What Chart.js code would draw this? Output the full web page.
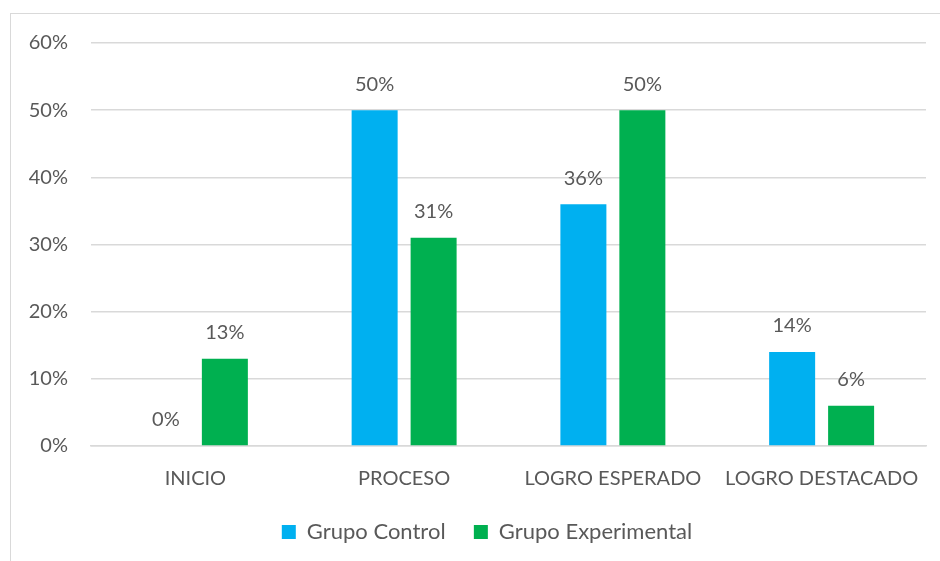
<!DOCTYPE html>
<html>
<head>
<meta charset="utf-8">
<script src="https://cdn.jsdelivr.net/npm/chart.js@4/dist/chart.umd.min.js"></script>
<style>
    html, body { margin: 0; padding: 0; background: #fff; }
    #wrap { position: relative; width: 940px; height: 561px; }
    #frame {
        position: absolute; left: 10px; top: 13px; right: -2px; bottom: -2px;
        border: 1px solid #d9d9d9;
    }
    #chart { position: absolute; left: 0; top: 0; }
</style>
</head>
<body>
<div id="wrap">
    <div id="frame"></div>
    <canvas id="chart" width="940" height="561"></canvas>
</div>
<script>
const categories = ["INICIO", "PROCESO", "LOGRO ESPERADO", "LOGRO DESTACADO"];
const grupoControl = [0, 50, 36, 14];
const grupoExperimental = [13, 31, 50, 6];

const textColor = "#595959";
const fontFamily = "Lato, 'Open Sans', sans-serif";
const fontSize = 20;

// draws the percentage above each bar
const valueLabels = {
    id: "valueLabels",
    afterDatasetsDraw(chart) {
        const ctx = chart.ctx;
        ctx.save();
        ctx.fillStyle = textColor;
        ctx.font = fontSize + "px " + fontFamily;
        ctx.textAlign = "center";
        ctx.textBaseline = "middle";
        chart.data.datasets.forEach((ds, i) => {
            chart.getDatasetMeta(i).data.forEach((bar, j) => {
                ctx.fillText(ds.data[j] + "%", bar.x, bar.y - 26);
            });
        });
        ctx.restore();
    }
};

// legend sits centred on the frame rather than the canvas
const legendShift = {
    id: "legendShift",
    afterLayout(chart) {
        chart.legend.left += 19;
        chart.legend.right += 19;
    }
};

new Chart(document.getElementById("chart"), {
    type: "bar",
    data: {
        labels: categories,
        datasets: [
            {
                label: "Grupo Control",
                data: grupoControl,
                backgroundColor: "#00b0f0",
            },
            {
                label: "Grupo Experimental",
                data: grupoExperimental,
                backgroundColor: "#00b050",
            },
        ],
    },
    options: {
        responsive: false,
        animation: false,
        layout: {
            padding: { left: 10, top: 43, right: 14, bottom: 8 }
        },
        datasets: {
            bar: {
                categoryPercentage: 0.565,
                barPercentage: 0.78,
            }
        },
        scales: {
            x: {
                grid: { display: false },
                border: { color: "#d9d9d9", width: 1.5 },
                ticks: {
                    color: textColor,
                    padding: 13,
                    font: { family: fontFamily, size: fontSize },
                },
            },
            y: {
                min: 0,
                max: 60,
                afterFit(scale) { scale.width = 81; },
                border: { display: false },
                grid: { color: "#d9d9d9", lineWidth: 1.5, drawTicks: false },
                ticks: {
                    stepSize: 10,
                    padding: 23,
                    color: textColor,
                    font: { family: fontFamily, size: fontSize },
                    callback: (v) => v + "%",
                },
            },
        },
        plugins: {
            legend: {
                position: "bottom",
                labels: {
                    boxWidth: 14,
                    boxHeight: 14,
                    padding: 17,
                    color: textColor,
                    font: { family: fontFamily, size: 22 },
                    generateLabels(chart) {
                        const items = Chart.defaults.plugins.legend.labels.generateLabels(chart);
                        // a little extra room after the first entry
                        items[0].text += "  ";
                        return items;
                    },
                },
            },
            tooltip: { enabled: false },
        },
    },
    plugins: [valueLabels, legendShift],
});
</script>
</body>
</html>
